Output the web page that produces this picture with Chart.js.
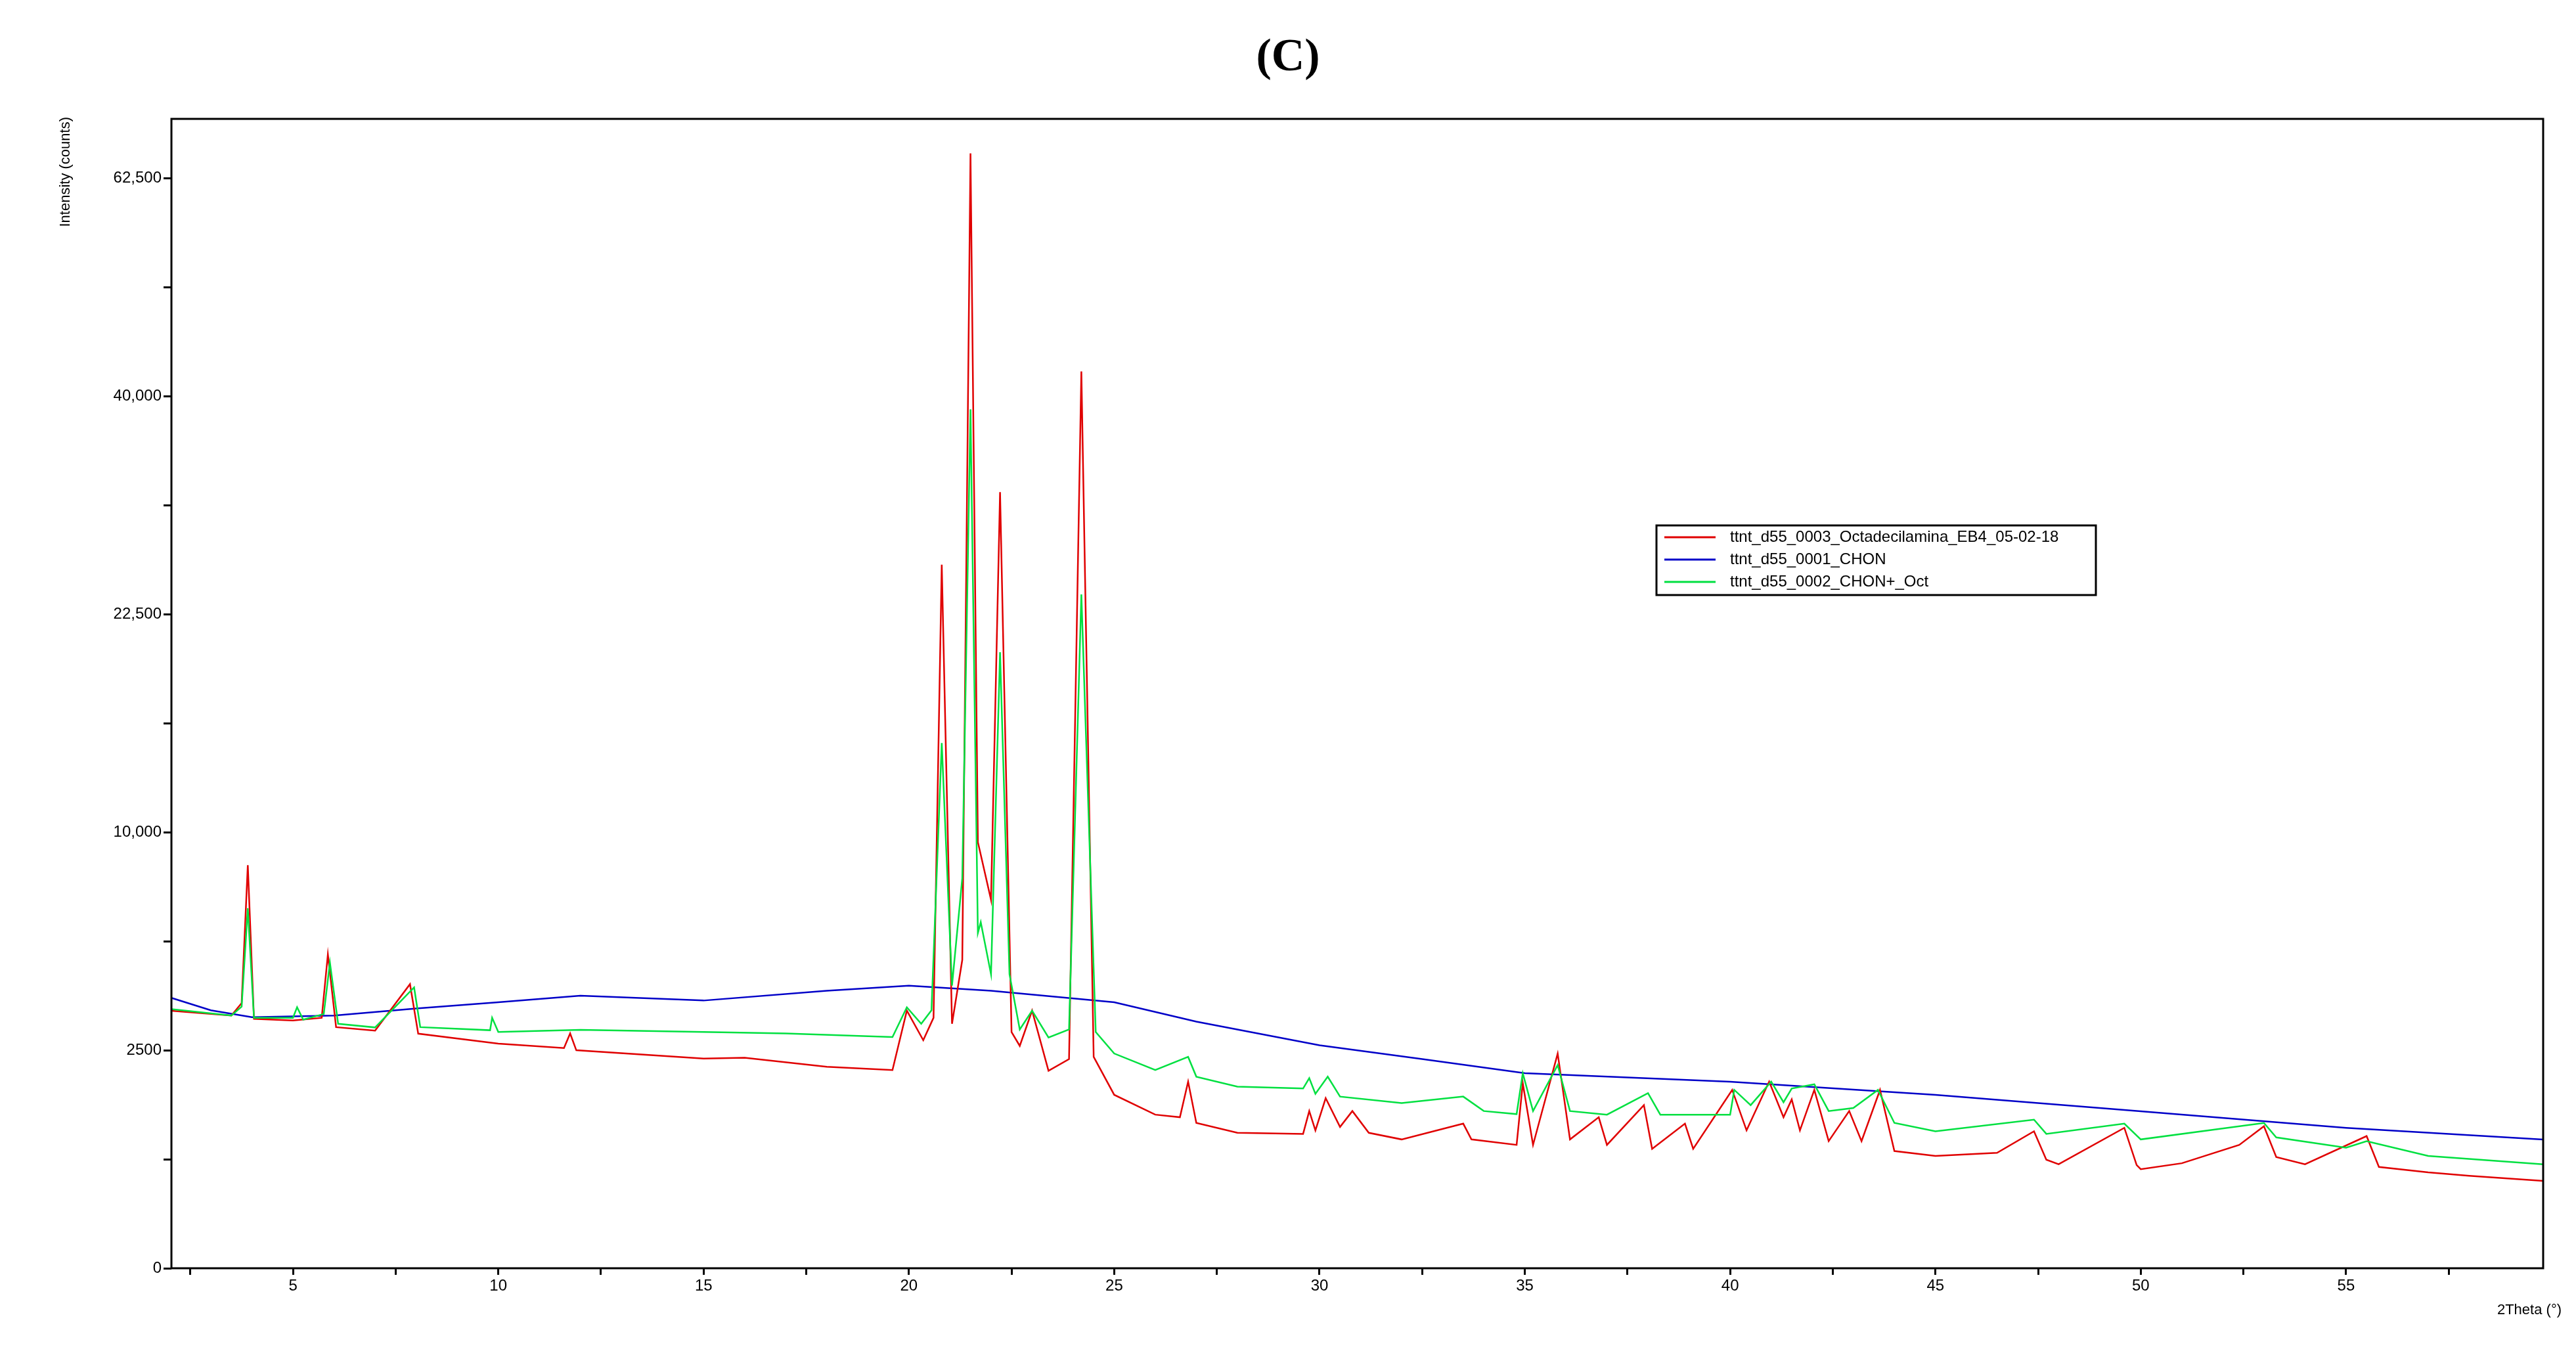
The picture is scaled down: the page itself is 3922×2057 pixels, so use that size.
<!DOCTYPE html>
<html>
<head>
<meta charset="utf-8">
<script src="https://cdn.jsdelivr.net/npm/chart.js@4"></script>
<style>
body { margin: 0; background: #fff; }
#wrap { position: relative; width: 3922px; height: 2057px; }
#title { position: absolute; top: 44px; width: 100%; text-align: center; font: bold 70px "Liberation Serif", serif; }
</style>
</head>
<body>
<div id="wrap">
<div id="title">(C)</div>
<canvas id="myChart" width="3922" height="2057"></canvas>
</div>
<script>
const SERIES_LABELS = ['ttnt_d55_0003_Octadecilamina_EB4_05-02-18', 'ttnt_d55_0001_CHON', 'ttnt_d55_0002_CHON+_Oct'];
const Y_TICKS = [0, 2500, 10000, 22500, 40000, 62500];
const X_TICKS = [5, 10, 15, 20, 25, 30, 35, 40, 45, 50, 55];

const redX = [2, 3.5, 3.75, 3.9, 4.05, 5, 5.7, 5.85, 6.05, 7, 7.85, 8.05, 10, 11.6, 11.75, 11.9, 15, 16, 18, 19.6, 19.95, 20.35, 20.6, 20.8, 21.05, 21.3, 21.5, 21.68, 22.0, 22.22, 22.5, 22.7, 23.0, 23.4, 23.9, 24.2, 24.5, 25, 26, 26.6, 26.8, 27, 28, 29.6, 29.75, 29.9, 30.15, 30.5, 30.8, 31.2, 32, 33.5, 33.7, 34.8, 34.95, 35.2, 35.8, 36.1, 36.8, 37, 37.9, 38.1, 38.9, 39.1, 40.05, 40.4, 40.95, 41.3, 41.5, 41.7, 42.05, 42.4, 42.9, 43.2, 43.65, 44, 45, 46.5, 47.4, 47.7, 48, 49.6, 49.9, 50, 51, 52.4, 53, 53.3, 54, 55.5, 55.8, 57, 58, 59.8];
const redY = [3491, 3359, 3700, 8543, 3272, 3228, 3300, 5180, 3058, 2970, 4245, 2894, 2654, 2550, 2900, 2500, 2314, 2330, 2135, 2066, 3491, 2735, 3300, 26040, 3143, 5000, 65380, 9550, 7137, 31690, 2935, 2600, 3491, 2050, 2300, 42310, 2350, 1582, 1241, 1200, 1832, 1111, 965, 950, 1300, 1000, 1522, 1050, 1300, 965, 873, 1100, 873, 800, 1800, 800, 2425, 873, 1200, 800, 1400, 750, 1100, 750, 1673, 1000, 1832, 1200, 1500, 1000, 1673, 850, 1300, 850, 1673, 723, 664, 700, 987, 620, 569, 1037, 560, 516, 580, 800, 1061, 650, 569, 919, 540, 483, 450, 402];

const greenX = [2, 3.5, 3.75, 3.9, 4.05, 5, 5.1, 5.25, 5.75, 5.9, 6.1, 7, 7.95, 8.1, 9.8, 9.85, 10, 12, 15, 17, 19.6, 19.95, 20.3, 20.55, 20.8, 21.05, 21.3, 21.5, 21.68, 21.75, 22.0, 22.22, 22.45, 22.7, 23.0, 23.4, 23.9, 24.2, 24.55, 25, 26, 26.8, 27, 28, 29.6, 29.75, 29.9, 30.2, 30.5, 32, 33.5, 34, 34.8, 34.95, 35.2, 35.8, 36.1, 37, 38, 38.3, 40, 40.1, 40.5, 41, 41.3, 41.5, 42.05, 42.4, 43, 43.6, 44, 45, 47.4, 47.7, 49.6, 50, 53, 53.3, 55, 55.5, 57, 59.8];
const greenY = [3538, 3359, 3600, 6820, 3300, 3300, 3582, 3250, 3400, 4912, 3143, 3050, 4147, 3058, 2980, 3300, 2935, 2990, 2935, 2900, 2810, 3582, 3143, 3500, 14510, 4200, 8000, 38800, 5913, 6300, 4546, 19960, 4546, 3000, 3491, 2800, 3000, 23880, 2935, 2425, 2066, 2350, 1930, 1736, 1700, 1900, 1600, 1930, 1550, 1435, 1550, 1300, 1250, 2000, 1300, 2171, 1300, 1241, 1612, 1241, 1241, 1673, 1400, 1832, 1450, 1700, 1780, 1300, 1350, 1673, 1111, 987, 1162, 950, 1100, 873, 1111, 900, 765, 850, 664, 569];

const blueX = [2, 3, 4, 6, 8, 10, 12, 15, 18, 20, 22, 25, 27, 30, 32.5, 35, 40, 45, 50, 55, 59.8];
const blueY = [3860, 3500, 3315, 3360, 3550, 3720, 3906, 3770, 4050, 4200, 4050, 3720, 3200, 2615, 2300, 2000, 1830, 1580, 1295, 1037, 872];

const COLORS = ['#e00000', '#0000c8', '#00e040'];
const FONT = '"Liberation Sans", Arial, sans-serif';

// square-root intensity axis, plotted on a linear scale
function toPoints(xs, ys) {
    return xs.map((x, i) => ({ x: x, y: Math.sqrt(ys[i]) }));
}

const frameAndLegend = {
    id: 'frameAndLegend',
    afterDraw(chart) {
        const ctx = chart.ctx;
        const a = chart.chartArea;
        ctx.save();
        ctx.strokeStyle = '#000';
        ctx.lineWidth = 3;
        ctx.strokeRect(a.left, a.top, a.right - a.left, a.bottom - a.top);
        // legend box
        const lx = 2522, ly = 800, lw = 669, lh = 106;
        ctx.fillStyle = '#fff';
        ctx.fillRect(lx, ly, lw, lh);
        ctx.lineWidth = 3;
        ctx.strokeRect(lx, ly, lw, lh);
        ctx.font = '24px ' + FONT;
        ctx.textBaseline = 'middle';
        SERIES_LABELS.forEach((label, i) => {
            const yy = ly + 18 + i * 34;
            ctx.strokeStyle = COLORS[i];
            ctx.lineWidth = 3;
            ctx.beginPath();
            ctx.moveTo(lx + 12, yy);
            ctx.lineTo(lx + 90, yy);
            ctx.stroke();
            ctx.fillStyle = '#000';
            ctx.fillText(label, lx + 112, yy);
        });
        // axis titles
        ctx.font = '22px ' + FONT;
        ctx.fillStyle = '#000';
        ctx.textAlign = 'right';
        ctx.fillText('2Theta (°)', 3900, 1995);
        ctx.translate(100, 178);
        ctx.rotate(-Math.PI / 2);
        ctx.textAlign = 'right';
        ctx.fillText('Intensity (counts)', 0, 0);
        ctx.restore();
    }
};

new Chart(document.querySelector('#myChart'), {
    type: 'scatter',
    data: {
        datasets: [
            { label: SERIES_LABELS[2], data: toPoints(greenX, greenY), borderColor: COLORS[2] },
            { label: SERIES_LABELS[0], data: toPoints(redX, redY), borderColor: COLORS[0] },
            { label: SERIES_LABELS[1], data: toPoints(blueX, blueY), borderColor: COLORS[1] },
        ].map((d) => Object.assign(d, { showLine: true, pointRadius: 0, borderWidth: 2.5, tension: 0 })),
    },
    options: {
        responsive: false,
        animation: false,
        layout: { padding: { top: 181, right: 50, left: 0, bottom: 0 } },
        plugins: { legend: { display: false }, tooltip: { enabled: false } },
        scales: {
            x: {
                type: 'linear',
                min: 2.04,
                max: 59.8,
                afterBuildTicks(scale) {
                    scale.ticks = [2.5, 5, 7.5, 10, 12.5, 15, 17.5, 20, 22.5, 25, 27.5, 30, 32.5, 35, 37.5, 40, 42.5, 45, 47.5, 50, 52.5, 55, 57.5].map((v) => ({ value: v }));
                },
                afterFit(scale) { scale.height = 126; },
                grid: { drawOnChartArea: false, tickLength: 10, color: '#000', lineWidth: 3 },
                border: { display: false },
                ticks: {
                    font: { size: 24, family: FONT },
                    color: '#000',
                    maxRotation: 0,
                    autoSkip: false,
                    callback: (v) => X_TICKS.includes(v) ? String(v) : '',
                },
            },
            y: {
                type: 'linear',
                min: 0,
                max: 263.6,
                afterBuildTicks(scale) {
                    scale.ticks = [0, 25, 50, 75, 100, 125, 150, 175, 200, 225, 250].map((v) => ({ value: v }));
                },
                afterFit(scale) { scale.width = 261; },
                grid: { drawOnChartArea: false, tickLength: 12, color: '#000', lineWidth: 3 },
                border: { display: false },
                ticks: {
                    font: { size: 24, family: FONT },
                    color: '#000',
                    autoSkip: false,
                    callback: (v) => {
                        const label = Y_TICKS.find((t) => Math.abs(Math.sqrt(t) - v) < 0.01);
                        if (label === undefined) return '';
                        return label === 2500 ? '2500' : label.toLocaleString('en-US');
                    },
                },
            },
        },
    },
    plugins: [frameAndLegend],
});
</script>
</body>
</html>
